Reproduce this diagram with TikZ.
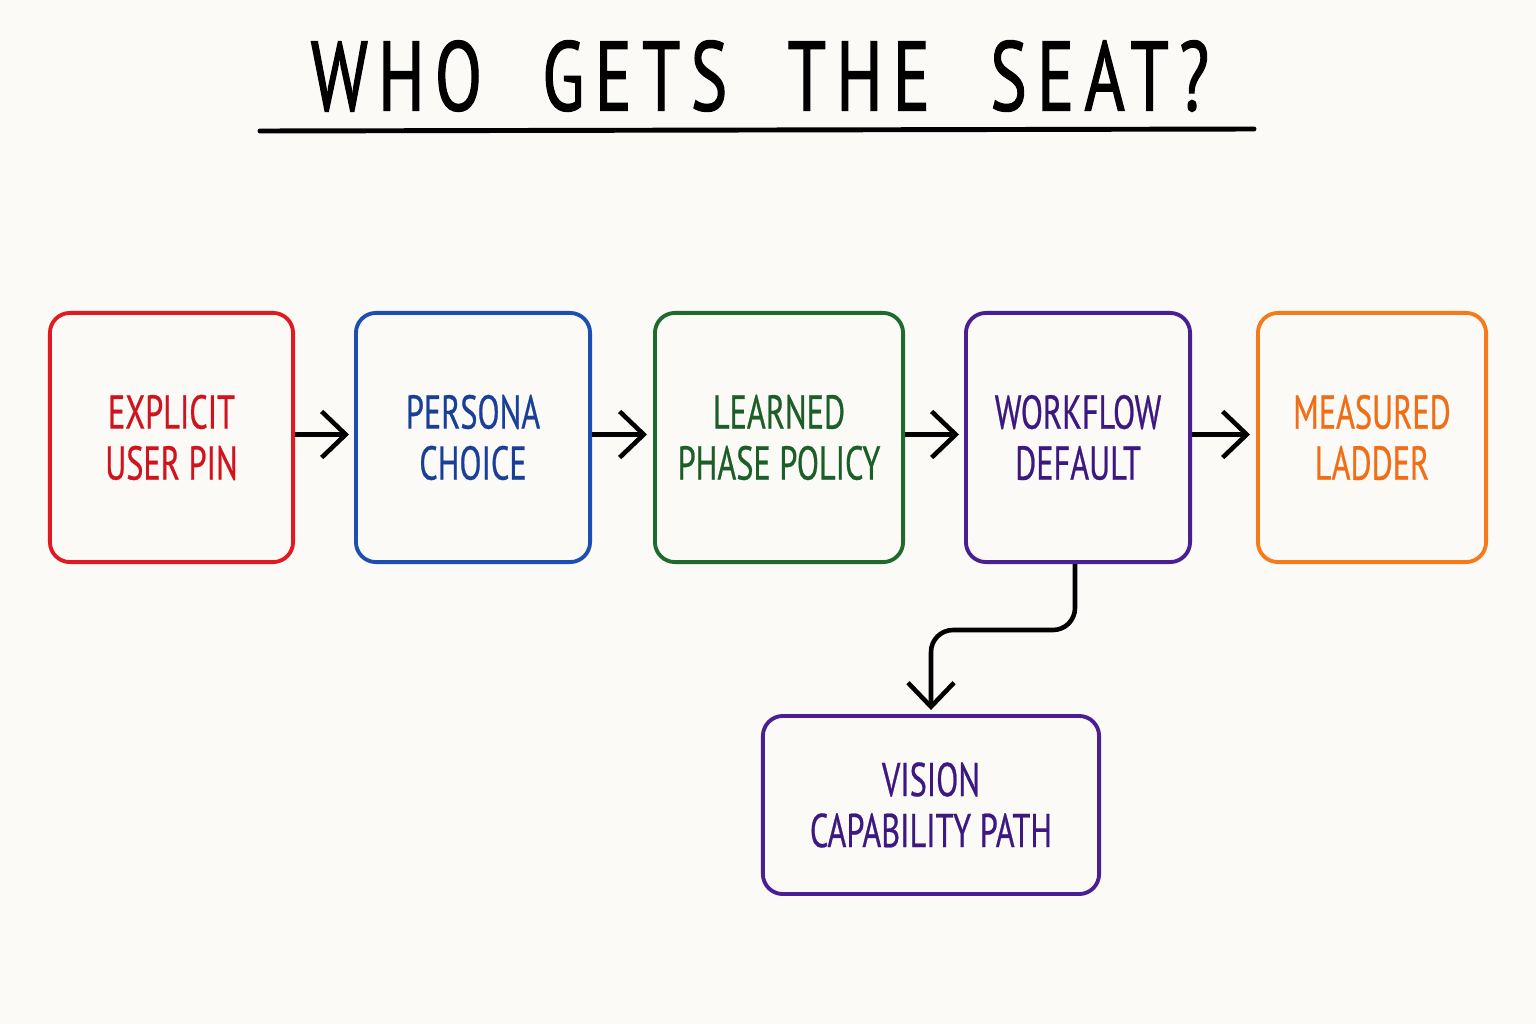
\documentclass[tikz,border=0pt]{standalone}
\usepackage{fontspec}
\usetikzlibrary{arrows.meta,calc}
\newfontfamily\handfont[FakeStretch=0.68,FakeBold=0.5]{PT Sans}
\newfontfamily\titlefont[FakeStretch=0.7,LetterSpace=10.5,WordSpace=2.1,FakeBold=1.2]{PT Sans}
\definecolor{bg}{HTML}{FBFAF7}
\definecolor{cred}{HTML}{E01A22}
\definecolor{cblue}{HTML}{1C4FB0}
\definecolor{cgreen}{HTML}{1F6B2E}
\definecolor{cpurple}{HTML}{4A1F94}
\definecolor{corange}{HTML}{F57A1C}
\definecolor{tred}{HTML}{D0141E}
\definecolor{tblue}{HTML}{1A3F98}
\definecolor{tgreen}{HTML}{1C5E28}
\definecolor{tpurple}{HTML}{3C1880}
\definecolor{torange}{HTML}{F06E16}
\tikzset{
  box/.style={draw, line width=1.1pt, rounded corners=0.2cm, align=center,
    inner sep=0pt, font=\handfont\fontsize{13.5}{15.5}\selectfont},
  conn/.style={line width=1.3pt, -{Straight Barb[length=2.4mm,width=4.6mm,line width=1.3pt]}},
}
\begin{document}
\begin{tikzpicture}[x=0.01cm,y=-0.01cm]
\fill[bg] (0,0) rectangle (1536,1024);
\useasboundingbox (0,0) rectangle (1536,1024);
\node[font=\titlefont\fontsize{28}{30}\selectfont] (title) at (760,76) {WHO GETS THE SEAT?};
\coordinate (ulA) at (260,131);
\coordinate (ulB) at (1254,129);
\draw[line width=1.4pt, line cap=round] (ulA) -- (ulB);

\node[box, draw=cred, text=tred, minimum width=2.43cm, minimum height=2.49cm] (pin) at (171.5,437.5) {EXPLICIT\\[-1pt]USER PIN};
\node[box, draw=cblue, text=tblue, minimum width=2.34cm, minimum height=2.49cm] (persona) at (473,437.5) {PERSONA\\[-1pt]CHOICE};
\node[box, draw=cgreen, text=tgreen, minimum width=2.48cm, minimum height=2.49cm] (learned) at (779,437.5) {LEARNED\\[-1pt]PHASE POLICY};
\node[box, draw=cpurple, text=tpurple, minimum width=2.24cm, minimum height=2.49cm] (wf) at (1078,437.5) {WORKFLOW\\[-1pt]DEFAULT};
\node[box, draw=corange, text=torange, minimum width=2.28cm, minimum height=2.49cm] (ladder) at (1372,437.5) {MEASURED\\[-1pt]LADDER};
\node[box, draw=cpurple, text=tpurple, minimum width=3.36cm, minimum height=1.78cm] (vision) at (931,805) {VISION\\[-1pt]CAPABILITY PATH};

\draw[conn] ($(pin.east)+(0,-3)$) -- ($(persona.west)+(-5,-3)$);
\draw[conn] ($(persona.east)+(0,-3)$) -- ($(learned.west)+(-6,-3)$);
\draw[conn] ($(learned.east)+(0,-3)$) -- ($(wf.west)+(-5,-3)$);
\draw[conn] ($(wf.east)+(0,-3)$) -- ($(ladder.west)+(-6,-3)$);
\draw[conn, rounded corners=0.22cm] ($(wf.south)+(-3,0)$) -- ++(0,66) -| ($(vision.north)+(0,-4)$);
\end{tikzpicture}
\end{document}
